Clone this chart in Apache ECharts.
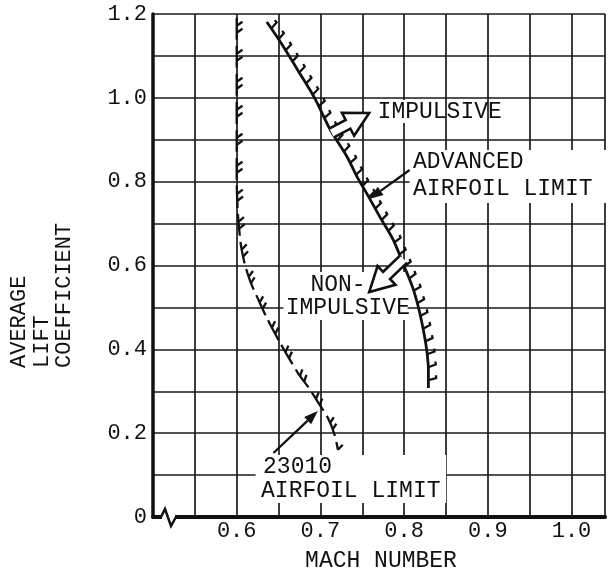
<!DOCTYPE html>
<html><head><meta charset="utf-8">
<script src="https://cdn.jsdelivr.net/npm/echarts@6/dist/echarts.min.js"></script>
<style>html,body{margin:0;padding:0;background:#fff}#c{width:608px;height:568px}</style>
</head><body><div id="c"></div>
<script>
// ---- data ----
const xTickLabels = ['0.6', '0.7', '0.8', '0.9', '1.0'];
const yTickLabels = ['0', '0.2', '0.4', '0.6', '0.8', '1.0', '1.2'];
// Advanced airfoil limit (Mach, average lift coefficient)
const advMach = [0.636, 0.653, 0.673, 0.693, 0.712, 0.732, 0.744, 0.7565, 0.771, 0.787, 0.7995, 0.810, 0.817, 0.823, 0.827, 0.829, 0.829];
const advCL   = [1.181, 1.131, 1.066, 1.000, 0.923, 0.859, 0.811, 0.768, 0.716, 0.661, 0.601, 0.549, 0.501, 0.446, 0.398, 0.351, 0.308];
// 23010 airfoil limit
const a23Mach = [0.600, 0.600, 0.6015, 0.605, 0.610, 0.617, 0.626, 0.636, 0.652, 0.673, 0.688, 0.697, 0.709, 0.717, 0.721];
const a23CL   = [1.191, 0.804, 0.721, 0.649, 0.601, 0.558, 0.518, 0.475, 0.415, 0.344, 0.303, 0.274, 0.236, 0.196, 0.160];

// ---- annotations (data units) ----
const FONT = '"Liberation Mono", "DejaVu Sans Mono", monospace';
const texts = [
  {t: 'IMPULSIVE', m: 0.7683, c: 0.9662},
  {t: 'ADVANCED', m: 0.8107, c: 0.8469},
  {t: 'AIRFOIL LIMIT', m: 0.8107, c: 0.7825},
  {t: 'NON-', m: 0.6881, c: 0.5535},
  {t: 'IMPULSIVE', m: 0.6586, c: 0.4986},
  {t: '23010', m: 0.6315, c: 0.1193},
  {t: 'AIRFOIL LIMIT', m: 0.6291, c: 0.0620}
];
const boxes = [
  [0.7618, 0.9948, 0.8380, 0.9400],
  [0.8066, 0.8755, 1.05, 0.7491],
  [0.6557, 0.5845, 0.8042, 0.4700],
  [0.6226, 0.1479, 0.8502, 0.0334]
];
const hollowArrows = [
  {from: [0.7134, 0.9161], to: [0.7583, 0.9638]},
  {from: [0.7995, 0.6155], to: [0.7583, 0.5368]}
];
const solidArrows = [
  {from: [0.8066, 0.8278], to: [0.7583, 0.7586]},
  {from: [0.6439, 0.1527], to: [0.6969, 0.2529]}
];

function makeHatch(xs, ys, cfg) {
  return {
    type: 'custom', coordinateSystem: 'cartesian2d', clip: false, silent: true, z: 3,
    data: [[xs[0], ys[0]]],
    renderItem: function (params, api) {
      const p = xs.map((m, i) => api.coord([m, ys[i]]));
      const cum = [0];
      for (let i = 1; i < p.length; i++) cum.push(cum[i - 1] + Math.hypot(p[i][0] - p[i - 1][0], p[i][1] - p[i - 1][1]));
      const total = cum[cum.length - 1];
      const kids = [];
      const ca = Math.cos(cfg.angle * Math.PI / 180), sa = Math.sin(cfg.angle * Math.PI / 180);
      for (let s = cfg.start; s < total; s += cfg.period) {
        cfg.offsets.forEach(off => {
          const d = s + off;
          if (d > total - cfg.endGap) return;
          let k = 1;
          while (k < cum.length - 1 && cum[k] < d) k++;
          const seg = cum[k] - cum[k - 1];
          const f = seg > 0 ? (d - cum[k - 1]) / seg : 0;
          const tx = (p[k][0] - p[k - 1][0]) / seg, ty = (p[k][1] - p[k - 1][1]) / seg;
          const px = p[k - 1][0] + f * (p[k][0] - p[k - 1][0]);
          const py = p[k - 1][1] + f * (p[k][1] - p[k - 1][1]);
          const nx = ty, ny = -tx;
          const dx = nx * ca - tx * sa, dy = ny * ca - ty * sa;
          const qx = px + cfg.len * dx, qy = py + cfg.len * dy;
          const pts = [[px, py], [qx, qy]];
          if (cfg.hook) pts.push([qx - tx * cfg.hook, qy - ty * cfg.hook]);
          kids.push({type: 'polyline', shape: {points: pts}, style: {stroke: '#111', lineWidth: cfg.width, fill: null}});
        });
      }
      return {type: 'group', children: kids};
    }
  };
}

const chart = echarts.init(document.getElementById('c'), null, {renderer: 'canvas'});
const option = {
  animation: false,
  backgroundColor: '#fff',
  grid: {left: 153, right: -3, top: 14, bottom: 51, containLabel: false},
  xAxis: {
    type: 'value', min: 0.5, max: 1.04, interval: 0.05,
    axisLine: {show: true, lineStyle: {color: '#111', width: 4}},
    axisTick: {show: false},
    axisLabel: {
      margin: 3, fontFamily: FONT, fontSize: 22, color: '#111',
      formatter: v => { const k = Math.round(v * 100); const s = (k / 100).toFixed(1); return (k % 10 === 0 && xTickLabels.indexOf(s) >= 0) ? s : ''; }
    },
    splitLine: {show: true, lineStyle: {color: '#1a1a1a', width: 1.7}}
  },
  yAxis: {
    type: 'value', min: 0, max: 1.2, interval: 0.1,
    axisLine: {show: true, lineStyle: {color: '#111', width: 3.5}},
    axisTick: {show: false},
    axisLabel: {
      margin: 6, fontFamily: FONT, fontSize: 22, color: '#111',
      formatter: v => { const k = Math.round(v * 10); const s = k === 0 ? '0' : (k / 10).toFixed(1); return (k % 2 === 0 && yTickLabels.indexOf(s) >= 0) ? s : ''; }
    },
    splitLine: {show: true, lineStyle: {color: '#1a1a1a', width: 1.7}}
  },
  series: [
    {type: 'line', data: advMach.map((m, i) => [m, advCL[i]]), showSymbol: false, smooth: 0.3, clip: false, z: 3,
     lineStyle: {color: '#111', width: 2.8}},
    {type: 'line', data: a23Mach.map((m, i) => [m, a23CL[i]]), showSymbol: false, smooth: 0.25, clip: false, z: 3,
     lineStyle: {color: '#111', width: 2.3, type: [22, 6]}},
    makeHatch(advMach, advCL, {start: 8, period: 13, offsets: [0], len: 8, angle: 15, hook: 3, width: 2.3, endGap: 2}),
    makeHatch(a23Mach, a23CL, {start: 4, period: 28, offsets: [4, 11], len: 7, angle: 35, hook: 0, width: 2.3, endGap: 0})
  ]
};
chart.setOption(option);

// ---- annotation graphics ----
const px = (m, c) => chart.convertToPixel({gridIndex: 0}, [m, c]);
const g = [];
boxes.forEach(b => {
  const a = px(b[0], b[1]), z = px(b[2], b[3]);
  g.push({type: 'rect', z: 1, shape: {x: a[0], y: a[1], width: z[0] - a[0], height: z[1] - a[1]}, style: {fill: '#fff'}});
});
texts.forEach(t => {
  const p = px(t.m, t.c);
  g.push({type: 'text', z: 10, x: p[0], y: p[1],
    style: {text: t.t, fill: '#111', font: '23px ' + FONT, align: 'left', verticalAlign: 'middle', textAlign: 'left', textVerticalAlign: 'middle'}});
});
hollowArrows.forEach(a => {
  const S = px(a.from[0], a.from[1]), T = px(a.to[0], a.to[1]);
  const L = Math.hypot(T[0] - S[0], T[1] - S[1]);
  const ux = (T[0] - S[0]) / L, uy = (T[1] - S[1]) / L, vx = -uy, vy = ux;
  const hl = 24, hw = 13, sw = 5;
  const B = [T[0] - hl * ux, T[1] - hl * uy];
  const P = (base, w) => [base[0] + w * vx, base[1] + w * vy];
  const pts = [P(S, sw), P(B, sw), P(B, hw), T, P(B, -hw), P(B, -sw), P(S, -sw)];
  g.push({type: 'polygon', z: 9, shape: {points: pts}, style: {fill: '#fff', stroke: null}});
  g.push({type: 'polyline', z: 10, shape: {points: pts}, style: {fill: null, stroke: '#111', lineWidth: 2.6, lineJoin: 'miter'}});
});
solidArrows.forEach(a => {
  const S = px(a.from[0], a.from[1]), T = px(a.to[0], a.to[1]);
  const L = Math.hypot(T[0] - S[0], T[1] - S[1]);
  const ux = (T[0] - S[0]) / L, uy = (T[1] - S[1]) / L, vx = -uy, vy = ux;
  const hl = 14, hw = 5;
  const B = [T[0] - hl * ux, T[1] - hl * uy];
  g.push({type: 'line', z: 10, shape: {x1: S[0], y1: S[1], x2: B[0], y2: B[1]}, style: {stroke: '#111', lineWidth: 2.3}});
  g.push({type: 'polygon', z: 10, shape: {points: [[B[0] + hw * vx, B[1] + hw * vy], T, [B[0] - hw * vx, B[1] - hw * vy]]}, style: {fill: '#111'}});
});
// axis break symbol
const o = px(0.5, 0);
g.push({type: 'rect', z: 9, shape: {x: o[0] + 9, y: o[1] - 4, width: 13, height: 8}, style: {fill: '#fff'}});
g.push({type: 'polyline', z: 10, shape: {points: [[o[0] + 8, o[1]], [o[0] + 12, o[1] - 8], [o[0] + 18, o[1] + 9], [o[0] + 23, o[1]]]},
  style: {fill: null, stroke: '#111', lineWidth: 2.5}});
// axis titles
g.push({type: 'text', z: 10, x: 381, y: o[1] + 44,
  style: {text: 'MACH NUMBER', fill: '#111', font: '23px ' + FONT, align: 'center', verticalAlign: 'middle', textAlign: 'center', textVerticalAlign: 'middle'}});
g.push({type: 'text', z: 10, x: 8, y: 368, rotation: Math.PI / 2,
  style: {text: 'AVERAGE\nLIFT\nCOEFFICIENT', fill: '#111', font: '22px ' + FONT, lineHeight: 22.5,
    align: 'left', verticalAlign: 'top', textAlign: 'left', textVerticalAlign: 'top'}});
chart.setOption({graphic: g});
</script>
</body></html>
